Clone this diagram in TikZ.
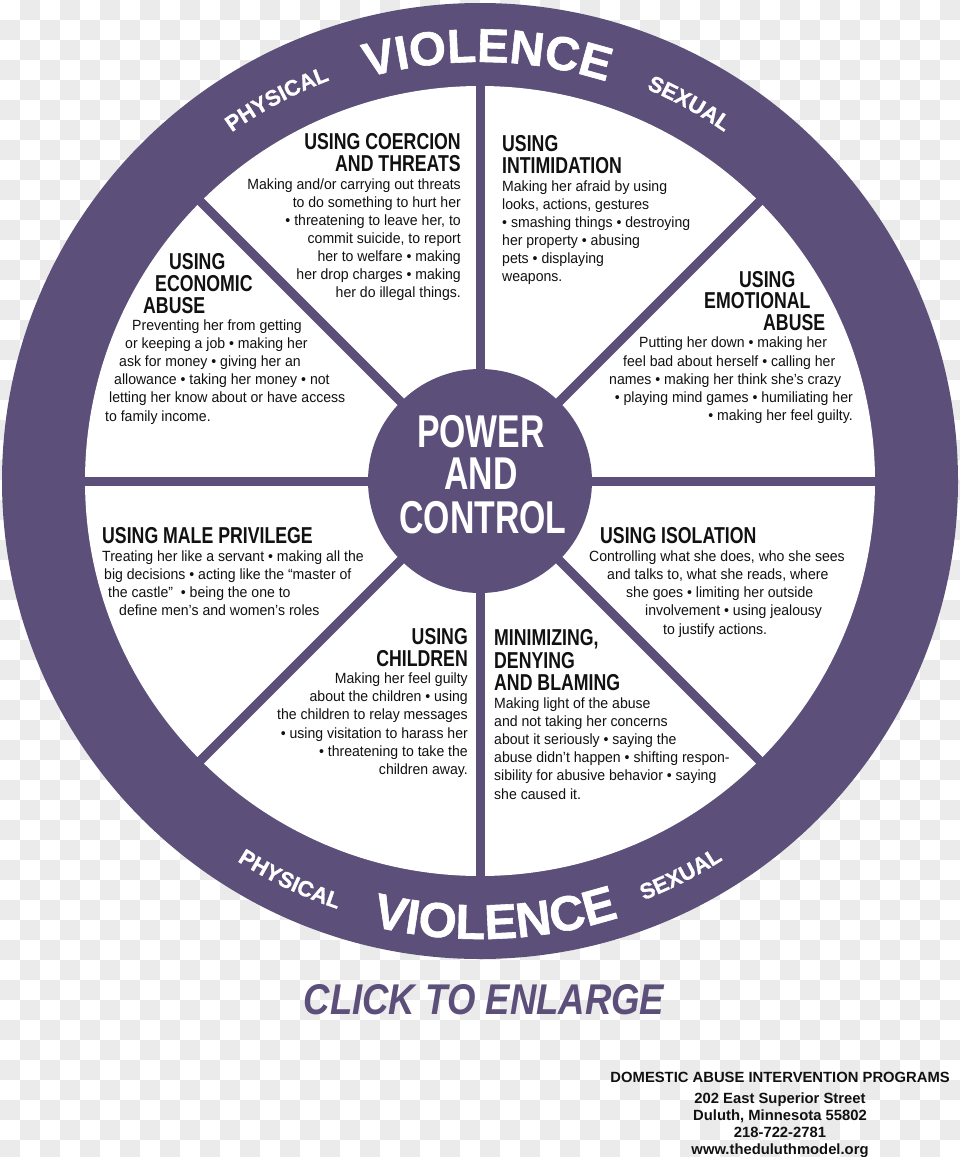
\documentclass[tikz,border=0pt]{standalone}
\usepackage{fontspec}
\setmainfont{Liberation Sans}
\newfontfamily\hdfont{Liberation Sans}[FakeStretch=0.77]
\newfontfamily\bdfont{Liberation Sans}[FakeStretch=0.95]
\newfontfamily\hubfont{Liberation Sans}[FakeStretch=0.735]
\newfontfamily\clickfont{Liberation Sans}[FakeStretch=0.85]
\newfontfamily\rimfont{Liberation Sans Bold}[FakeBold=1.2]
\usetikzlibrary{decorations.text}
\definecolor{wheel}{HTML}{5C4F7A}
\definecolor{chk}{HTML}{EBEBEB}
\definecolor{ink}{HTML}{111111}
\newcommand\violtop{\rimfont\fontsize{47.5}{47.5}\selectfont}
\newcommand\violbot{\rimfont\fontsize{49}{49}\selectfont}
\newcommand\rimword{\rimfont\fontsize{22}{22}\selectfont}
% header / body lines: name, x, y(px from top), text
\newcommand\HW[4]{\node[hd,anchor=base west] (#1) at (#2,-#3) {#4};}
\newcommand\HE[4]{\node[hd,anchor=base east] (#1) at (#2,-#3) {#4};}
\newcommand\BW[4]{\node[bd,anchor=base west] (#1) at (#2,-#3) {#4};}
\newcommand\BE[4]{\node[bd,anchor=base east] (#1) at (#2,-#3) {#4};}
\begin{document}
\begin{tikzpicture}[x=1pt,y=1pt,
  hd/.style={font=\hdfont\bfseries\fontsize{23}{23}\selectfont, inner sep=0pt, text=ink},
  bd/.style={font=\bdfont\fontsize{14.8}{14.8}\selectfont, inner sep=0pt, text=ink},
  hubtxt/.style={font=\hubfont\bfseries\fontsize{46}{46}\selectfont, inner sep=0pt, text=white},
  spoke/.style={draw=wheel, line width=9pt},
  rim/.style={decorate, decoration={text along path, text align=center, text color=white, text={#1}}},
  foot/.style={font=\bfseries\fontsize{14.8}{14.8}\selectfont, inner sep=0pt, text=ink}]
\useasboundingbox (0,0) rectangle (960,-1157);
\fill[white] (0,0) rectangle (960,-1157);
% checkered background
\foreach \j in {0,...,57}{
  \foreach \i in {0,...,47}{
    \pgfmathtruncatemacro\chkpar{mod(\i+\j,2)}
    \ifnum\chkpar=1 \fill[chk] ({\i*20},{-\j*20}) rectangle ++(20,-20);\fi
  }
}
\coordinate (W) at (480,-481);
% wheel
\fill[wheel] (W) circle[radius=478];
\fill[white] (W) circle[radius=395];
\foreach \a in {0,45,90,135}{
  \draw[spoke] ([shift={(\a:400)}]W) -- ([shift={(\a+180:400)}]W);
}
\node[circle, fill=wheel, minimum size=224pt, inner sep=0pt] (hub) at (W) {};
\node[hubtxt, anchor=base] (hub1) at (481,-447) {POWER};
\node[hubtxt, anchor=base] (hub2) at (481,-489) {AND};
\node[hubtxt, anchor=base] (hub3) at (483,-533) {CONTROL};
% rim words
\path[rim={|\violtop|VIOLENCE}] ([shift={(110:419)}]W) arc[start angle=110, end angle=68, radius=419];
\path[rim={|\rimword|PHYSICAL}] ([shift={(132:428)}]W) arc[start angle=132, end angle=104, radius=428];
\path[rim={|\rimword|SEXUAL}] ([shift={(75:426)}]W) arc[start angle=75, end angle=47, radius=426];
\path[rim={|\violbot|VIOLENCE}] ([shift={(248:458)}]W) arc[start angle=248, end angle=296, radius=458];
\path[rim={|\rimword|PHYSICAL}] ([shift={(230:451)}]W) arc[start angle=230, end angle=259, radius=451];
\path[rim={|\rimword|SEXUAL}] ([shift={(283:450)}]W) arc[start angle=283, end angle=311, radius=450];
% coercion and threats
\HE{coe-h1}{461}{149.5}{USING COERCION}
\HE{coe-h2}{461}{171.5}{AND THREATS}
\BE{coe-1}{461}{189}{Making and/or carrying out threats}
\BE{coe-2}{461}{207}{to do something to hurt her}
\BE{coe-3}{461}{225}{• threatening to leave her, to}
\BE{coe-4}{461}{243}{commit suicide, to report}
\BE{coe-5}{461}{261}{her to welfare • making}
\BE{coe-6}{461}{279}{her drop charges • making}
\BE{coe-7}{461}{297}{her do illegal things.}
% intimidation
\HW{int-h1}{502}{151.5}{USING}
\HW{int-h2}{502}{173.5}{INTIMIDATION}
\BW{int-1}{502}{191}{Making her afraid by using}
\BW{int-2}{502}{209}{looks, actions, gestures}
\BW{int-3}{502}{227}{• smashing things • destroying}
\BW{int-4}{502}{245}{her property • abusing}
\BW{int-5}{502}{263}{pets • displaying}
\BW{int-6}{502}{281}{weapons.}
% economic abuse
\HW{eco-h1}{169}{269}{USING}
\HW{eco-h2}{155}{291}{ECONOMIC}
\HW{eco-h3}{143}{313}{ABUSE}
\BW{eco-1}{132}{330}{Preventing her from getting}
\BW{eco-2}{125}{348}{or keeping a job • making her}
\BW{eco-3}{119}{366}{ask for money • giving her an}
\BW{eco-4}{114}{384}{allowance • taking her money • not}
\BW{eco-5}{109}{402}{letting her know about or have access}
\BW{eco-6}{105}{421}{to family income.}
% emotional abuse
\HW{emo-h1}{739}{287}{USING}
\HW{emo-h2}{704}{308}{EMOTIONAL}
\HW{emo-h3}{763}{330}{ABUSE}
\BW{emo-1}{639}{347}{Putting her down • making her}
\BW{emo-2}{623}{366}{feel bad about herself • calling her}
\BW{emo-3}{609}{384}{names • making her think she’s crazy}
\BE{emo-4}{853}{402}{• playing mind games • humiliating her}
\BE{emo-5}{853}{420}{• making her feel guilty.}
% male privilege
\HW{mal-h1}{102}{543.5}{USING MALE PRIVILEGE}
\BW{mal-1}{102}{561}{Treating her like a servant • making all the}
\BW{mal-2}{104}{579}{big decisions • acting like the “master of}
\BW{mal-3}{108}{597}{the castle”~~• being the one to}
\BW{mal-4}{119}{615}{define men’s and women’s roles}
% isolation
\HW{iso-h1}{600}{543.5}{USING ISOLATION}
\BW{iso-1}{589}{561}{Controlling what she does, who she sees}
\BW{iso-2}{607}{579}{and talks to, what she reads, where}
\BW{iso-3}{626}{597}{she goes • limiting her outside}
\BW{iso-4}{645}{615}{involvement • using jealousy}
\BW{iso-5}{663}{634}{to justify actions.}
% children
\HE{chi-h1}{468}{644.5}{USING}
\HE{chi-h2}{468}{666.5}{CHILDREN}
\BE{chi-1}{468}{683}{Making her feel guilty}
\BE{chi-2}{468}{701}{about the children • using}
\BE{chi-3}{468}{719}{the children to relay messages}
\BE{chi-4}{468}{738}{• using visitation to harass her}
\BE{chi-5}{468}{756}{• threatening to take the}
\BE{chi-6}{468}{774}{children away.}
% minimizing
\HW{min-h1}{494}{645.5}{MINIMIZING,}
\HW{min-h2}{494}{668.5}{DENYING}
\HW{min-h3}{494}{690.5}{AND BLAMING}
\BW{min-1}{494}{708}{Making light of the abuse}
\BW{min-2}{494}{726}{and not taking her concerns}
\BW{min-3}{494}{744}{about it seriously • saying the}
\BW{min-4}{494}{762}{abuse didn’t happen • shifting respon-}
\BW{min-5}{494}{780}{sibility for abusive behavior • saying}
\BW{min-6}{494}{799}{she caused it.}
% click to enlarge
\node[font=\clickfont\bfseries\itshape\fontsize{43}{43}\selectfont, text=wheel, inner sep=0pt, anchor=base] (click) at (484,-1014) {CLICK TO ENLARGE};
% footer
\node[foot, anchor=base east] (f1) at (950,-1082) {DOMESTIC ABUSE INTERVENTION PROGRAMS};
\node[foot, anchor=base] (f2) at (780,-1103) {202 East Superior Street};
\node[foot, anchor=base] (f3) at (780,-1120) {Duluth, Minnesota 55802};
\node[foot, anchor=base] (f4) at (780,-1137) {218-722-2781};
\node[foot, anchor=base] (f5) at (780,-1154) {www.theduluthmodel.org};
\end{tikzpicture}
\end{document}
